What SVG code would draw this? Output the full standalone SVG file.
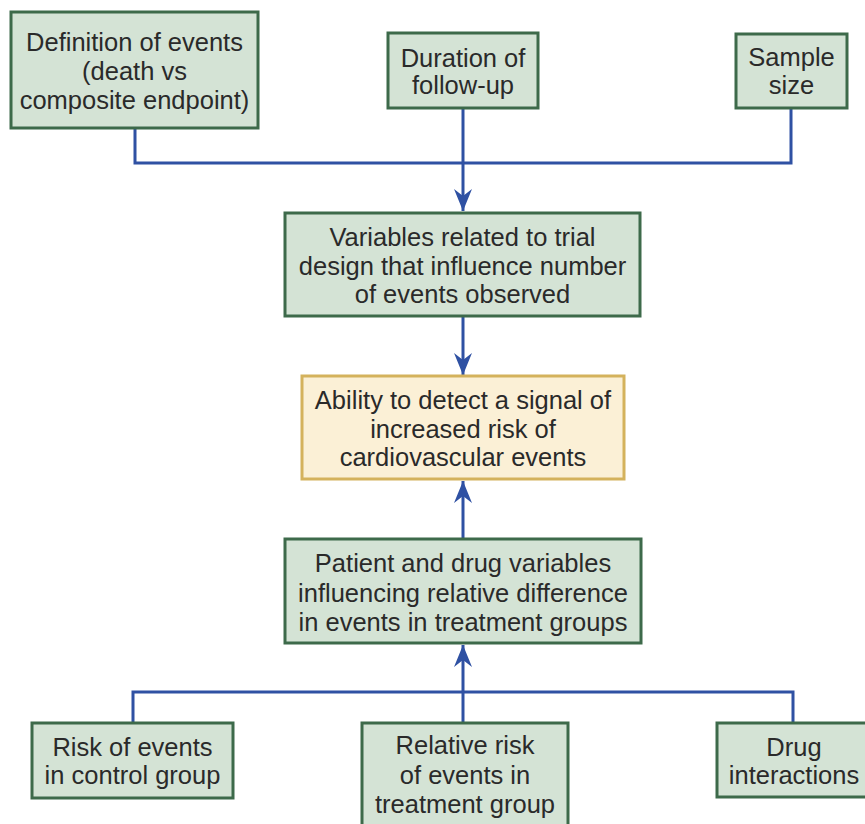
<svg xmlns="http://www.w3.org/2000/svg" width="865" height="824" viewBox="0 0 865 824">
<style>
.g{fill:#d4e3d5;stroke:#3d6a4a;stroke-width:3}
.y{fill:#fbf0d6;stroke:#d4b25c;stroke-width:3}
text{font-family:"Liberation Sans",Arial,sans-serif;font-size:25.5px;fill:#2a2a2a;text-anchor:middle}
.c{fill:none;stroke:#2f51a3;stroke-width:3}
</style>
<defs>
<marker id="ah" markerUnits="userSpaceOnUse" markerWidth="26" markerHeight="22" viewBox="-22 -11 26 22" refX="0" refY="0" orient="auto">
<path d="M0,0 L-22,-9 L-15,0 L-22,9 Z" fill="#2f51a3"/>
</marker>
</defs>
<rect width="865" height="824" fill="#ffffff"/>
<g id="connectors">
<path class="c" d="M135,128 V163 H791 V108"/>
<path class="c" d="M463,108 V211" marker-end="url(#ah)"/>
<path class="c" d="M463,316 V375" marker-end="url(#ah)"/>
<path class="c" d="M463,539 V481" marker-end="url(#ah)"/>
<path class="c" d="M133,723 V692 H793 V723"/>
<path class="c" d="M463,723 V645" marker-end="url(#ah)"/>
</g>
<g id="n1"><rect class="g" x="11" y="12" width="247" height="116"/>
<text x="134.5" y="51">Definition of events</text><text x="134.5" y="80">(death vs</text><text x="134.5" y="109">composite endpoint)</text></g>
<g id="n2"><rect class="g" x="388" y="33" width="150" height="75"/>
<text x="463" y="67">Duration of</text><text x="463" y="94">follow-up</text></g>
<g id="n3"><rect class="g" x="736" y="34" width="111" height="74"/>
<text x="791.5" y="66">Sample</text><text x="791.5" y="94">size</text></g>
<g id="n4"><rect class="g" x="285" y="213" width="355" height="103"/>
<text x="462.5" y="246">Variables related to trial</text><text x="462.5" y="275">design that influence number</text><text x="462.5" y="303">of events observed</text></g>
<g id="n5"><rect class="y" x="302" y="376" width="322" height="103"/>
<text x="463" y="409">Ability to detect a signal of</text><text x="463" y="438">increased risk of</text><text x="463" y="466">cardiovascular events</text></g>
<g id="n6"><rect class="g" x="285" y="539" width="356" height="104"/>
<text x="463" y="572">Patient and drug variables</text><text x="463" y="602">influencing relative difference</text><text x="463" y="631">in events in treatment groups</text></g>
<g id="n7"><rect class="g" x="32" y="723" width="201" height="75"/>
<text x="132.5" y="756">Risk of events</text><text x="132.5" y="784">in control group</text></g>
<g id="n8"><rect class="g" x="362" y="723" width="206" height="110"/>
<text x="465" y="754">Relative risk</text><text x="465" y="784">of events in</text><text x="465" y="813">treatment group</text></g>
<g id="n9"><rect class="g" x="717" y="723" width="154" height="74"/>
<text x="794" y="756">Drug</text><text x="794" y="784">interactions</text></g>
</svg>
